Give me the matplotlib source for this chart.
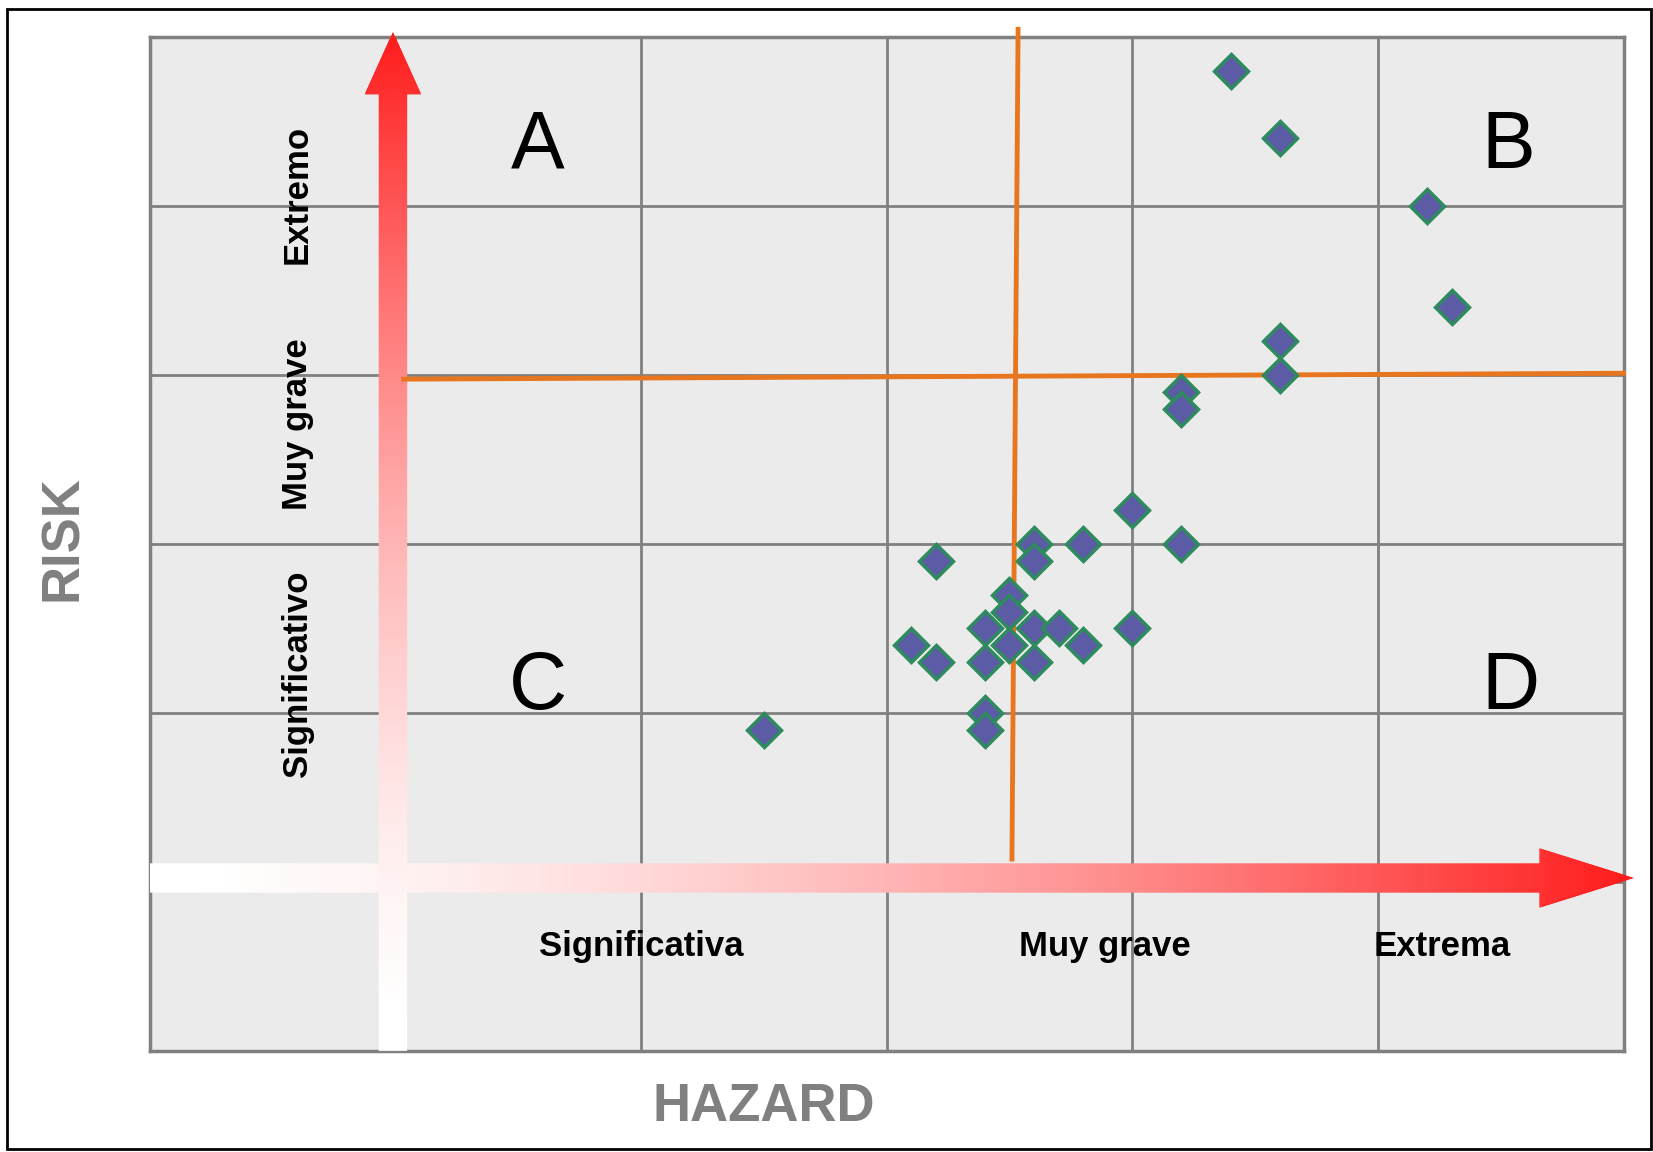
import numpy as np
import matplotlib.pyplot as plt
from matplotlib.patches import Polygon, Rectangle
from matplotlib.colors import LinearSegmentedColormap

plt.rcParams['font.family'] = ['Liberation Sans', 'DejaVu Sans']

# puntos: (hazard, risk)
hazard = [4.4, 4.6, 5.2, 5.3, 4.6, 4.6, 4.2, 4.2, 4.0, 4.2, 3.8, 3.6, 3.6, 3.2,
          3.5, 3.5, 3.4, 3.6, 3.7, 4.0, 3.5, 3.1, 3.8, 3.2, 3.4, 3.6, 3.4, 3.4, 2.5]
risk = [5.8, 5.4, 5.0, 4.4, 4.2, 4.0, 3.9, 3.8, 3.2, 3.0, 3.0, 3.0, 2.9, 2.9,
        2.7, 2.6, 2.5, 2.5, 2.5, 2.5, 2.4, 2.4, 2.4, 2.3, 2.3, 2.3, 2.0, 1.9, 1.9]

hazard_labels = ['Significativa', 'Muy grave', 'Extrema']
risk_labels = ['Significativo', 'Muy grave', 'Extremo']
quadrants = ['A', 'B', 'C', 'D']

# umbrales (lineas naranjas, un poco inclinadas en el original)
hazard_cut = [3.535, 3.51]
risk_cut = [3.975, 4.01]

fig = plt.figure(figsize=(16.53, 11.52), dpi=100)
ax = fig.add_axes([0.0906, 0.0878, 0.8916, 0.8801])
ax.set_facecolor('#ebebeb')

grey = '#808080'
for v in range(1, 6):
    ax.axvline(v, color=grey, lw=2, zorder=1)
    ax.axhline(v, color=grey, lw=2, zorder=1)
for s in ax.spines.values():
    s.set_color(grey)
    s.set_linewidth(2.5)
ax.set_xticks([])
ax.set_yticks([])

red = '#ff1c1c'
cmap = LinearSegmentedColormap.from_list('wr', ['#ffffff', red])


def gradient_arrow(verts, head, horizontal, z):
    xs = [p[0] for p in verts]
    ys = [p[1] for p in verts]
    # punta solida (sobresale un poco del eje)
    ax.add_patch(Polygon(head, closed=True, facecolor=red, edgecolor='none',
                         clip_on=False, zorder=z - 0.1))
    clip = Polygon(verts, closed=True, transform=ax.transData)
    g = np.linspace(0, 1, 256) ** 1.6
    img = g[np.newaxis, :] if horizontal else g[:, np.newaxis]
    im = ax.imshow(img, cmap=cmap, extent=[min(xs), max(xs), min(ys), max(ys)],
                   origin='lower', aspect='auto', interpolation='bilinear', zorder=z)
    im.set_clip_path(clip)


# flecha horizontal (HAZARD)
yc = 1.023
gradient_arrow([(0, yc - 0.087), (5.657, yc - 0.087), (5.657, yc - 0.175), (6.043, yc),
                (5.657, yc + 0.175), (5.657, yc + 0.087), (0, yc + 0.087)],
               [(5.66, yc - 0.175), (6.043, yc), (5.66, yc + 0.175)], True, 3)
# flecha vertical (RISK)
xc = 0.99
gradient_arrow([(xc - 0.058, 0), (xc - 0.058, 5.66), (xc - 0.114, 5.66), (xc, 6.03),
                (xc + 0.114, 5.66), (xc + 0.058, 5.66), (xc + 0.058, 0)],
               [(xc - 0.114, 5.665), (xc, 6.03), (xc + 0.114, 5.665)], False, 4)

# lineas de umbral
orange = '#e8761e'
ax.plot(hazard_cut, [6.045, 1.135], color=orange, lw=3.5, zorder=5, clip_on=False)
ax.plot([1.034, 6.0], risk_cut, color=orange, lw=3.5, zorder=5, clip_on=False)

# puntos
ax.plot(hazard, risk, linestyle='none', marker='D', markersize=17,
        markerfacecolor='#5c5ca6', markeredgecolor='#2e8b5e', markeredgewidth=2.5,
        zorder=6)

# etiquetas de niveles
for lab, x in zip(hazard_labels, [2.0, 3.89, 5.26]):
    ax.text(x, 0.62, lab, fontsize=25, fontweight='bold', ha='center', va='center', zorder=7)
for lab, y in zip(risk_labels, [2.23, 3.71, 5.07]):
    ax.text(0.60, y, lab, fontsize=25, fontweight='bold', rotation=90,
            ha='center', va='center', zorder=7)

# cuadrantes
for lab, x, y in zip(quadrants, [1.58, 5.53, 1.58, 5.54], [5.35, 5.35, 2.15, 2.15]):
    ax.text(x, y, lab, fontsize=58, ha='center', va='center', zorder=7)

ax.set_xlim(0, 6)
ax.set_ylim(0, 6)

fig.text(0.038, 0.533, 'RISK', rotation=90, fontsize=38, fontweight='bold',
         color=grey, ha='center', va='center')
fig.text(0.462, 0.039, 'HAZARD', fontsize=38, fontweight='bold',
         color=grey, ha='center', va='center')

fig.add_artist(Rectangle((0.0045, 0.003), 0.994, 0.989, transform=fig.transFigure,
                         fill=False, edgecolor='black', lw=2))

fig.savefig('out.png', dpi=100)
